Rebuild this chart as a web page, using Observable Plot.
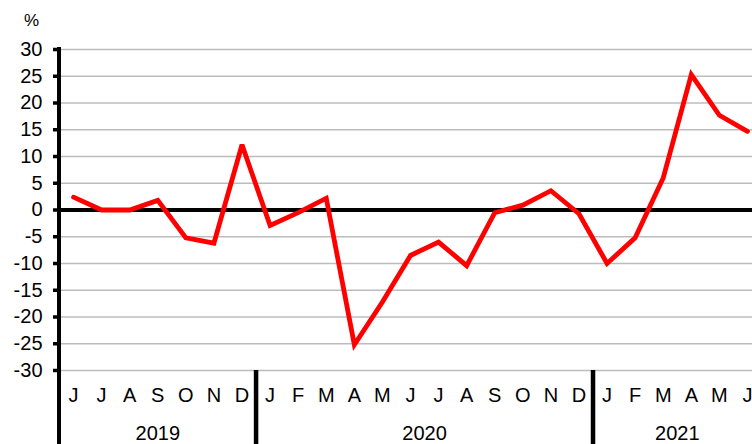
<!DOCTYPE html>
<html>
<head>
<meta charset="utf-8">
<script src="https://cdn.jsdelivr.net/npm/d3@7"></script>
<script src="https://cdn.jsdelivr.net/npm/@observablehq/plot@0.6"></script>
<style>
  html, body { margin: 0; padding: 0; background: #fff; overflow: hidden; }
  #chart svg { overflow: hidden; }
</style>
</head>
<body>
<div id="chart"></div>
<script>
// Months from June 2019 to June 2021
const monthLabels = ["J","J","A","S","O","N","D",
  "J","F","M","A","M","J","J","A","S","O","N","D",
  "J","F","M","A","M","J"];
const values = [2.4, 0.0, 0.0, 1.8, -5.2, -6.2, 12.2,
  -2.9, -0.5, 2.2, -25.2, -17.2, -8.5, -6.0, -10.4, -0.5, 0.9, 3.6, -0.7,
  -10.0, -5.2, 6.0, 25.3, 17.7, 14.7];
const years = ["2019", "2020", "2021"];
const yearStart = [0, 7, 19];
const yearEnd = [6, 18, 24];
const yTicks = [-30, -25, -20, -15, -10, -5, 0, 5, 10, 15, 20, 25, 30];
const unitLabel = "%";

const series = values.map((v, i) => ({i, v}));
const yearRows = years.map((y, k) => ({year: y, mid: (yearStart[k] + yearEnd[k]) / 2}));
const bounds = yearEnd.slice(0, -1).map(e => e + 0.5);

const chart = Plot.plot({
  width: 752,
  height: 444,
  marginTop: 49,
  marginBottom: 74,
  marginLeft: 59,
  marginRight: 0,
  style: {fontFamily: "'Liberation Sans', Arial, sans-serif", color: "#000", background: "#fff"},
  x: {type: "linear", domain: [-0.5, 24.5], range: [59, 761], label: null},
  y: {domain: [-30, 30], label: null},
  marks: [
    Plot.gridY(yTicks, {stroke: "#bcbcbc", strokeOpacity: 1, strokeWidth: 1.5}),
    Plot.axisY(yTicks, {tickSize: 6, tickPadding: 11, strokeWidth: 3.5, fontSize: 20,
      tickFormat: d => String(d), label: null}),
    Plot.axisX(d3.range(monthLabels.length), {tickSize: 0, tickPadding: 17, fontSize: 20,
      tickFormat: i => monthLabels[i], label: null}),
    Plot.text(yearRows, {x: "mid", text: "year", frameAnchor: "bottom", lineAnchor: "middle", dy: 63, fontSize: 20}),
    Plot.ruleX(bounds, {x: d => d, stroke: "#000", strokeWidth: 4.5, insetTop: 321, insetBottom: -74}),
    Plot.ruleY([0], {stroke: "#000", strokeWidth: 4}),
    Plot.lineY(series, {x: "i", y: "v", stroke: "#ff0000", strokeWidth: 4.8, strokeLinejoin: "miter", strokeMiterlimit: 3}),
    Plot.ruleX([-0.5], {stroke: "#000", strokeWidth: 4, dx: -0.5, insetTop: -2, insetBottom: -74}),
    Plot.text([unitLabel], {frameAnchor: "top-left", dx: -28, dy: -29, fontSize: 17, textAnchor: "middle", lineAnchor: "middle"})
  ]
});
document.getElementById("chart").appendChild(chart);
</script>
</body>
</html>
